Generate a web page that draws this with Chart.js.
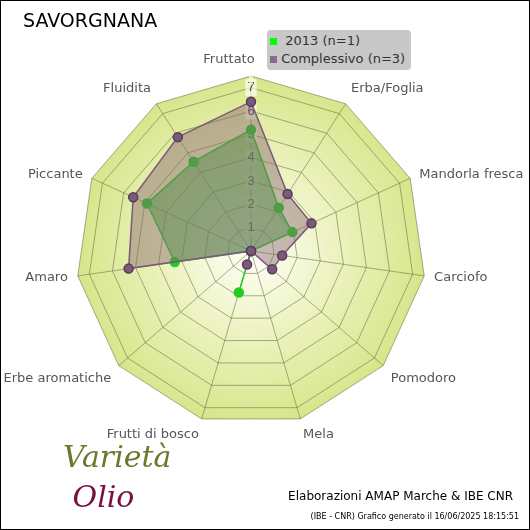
<!DOCTYPE html><html><head><meta charset="utf-8">
<script src="https://cdn.jsdelivr.net/npm/chart.js@4"></script>
<style>body{margin:0}#w{position:relative;width:528px;height:528px;border:1px solid #000;background:#fff;font-family:"DejaVu Sans",sans-serif;overflow:hidden}
#t{position:absolute;left:22px;top:8px;font-size:19px;color:#000}
#lg{position:absolute;left:266px;top:29px;width:144px;height:40px;background:#c8c8c8;border-radius:4px;font-size:13px;color:#333;line-height:18px;padding:2px 0 0 3px;box-sizing:border-box}
#f1{position:absolute;right:16px;top:488px;font-size:12px;color:#000}
#f2{position:absolute;right:10px;top:511px;font-size:8px;color:#000}
#logo{position:absolute;left:62px;top:436px;font-size:30px;line-height:40px;font-style:italic;color:#6b7a2a;font-family:"DejaVu Serif",serif}
</style></head><body><div id="w"><canvas id="c" width="528" height="528"></canvas>
<div id="t">SAVORGNANA</div>
<div id="lg"><span style="display:inline-block;width:7px;height:7px;background:#0f0"></span>&nbsp; 2013 (n=1)<br><span style="display:inline-block;width:7px;height:7px;background:#8a6a8a"></span> Complessivo (n=3)</div>
<div id="logo">Varietà<br><span style="color:#7a1040">&nbsp;Olio</span></div>
<div id="f1">Elaborazioni AMAP Marche &amp; IBE CNR</div>
<div id="f2">(IBE - CNR) Grafico generato il 16/06/2025 18:15:51</div></div>
<script>
const categories=["Fruttato","Erba/Foglia","Mandorla fresca","Carciofo","Pomodoro","Mela","Frutti di bosco","Erbe aromatiche","Amaro","Piccante","Fluidita"];
const s2013=[5.2,2.2,1.95,0,0,0,1.85,0,3.3,4.9,4.55];
const sAll=[6.4,2.9,2.85,1.35,1.2,0,0.6,0,5.3,5.55,5.8];
const bg={id:'bg',beforeDatasetsDraw(ch){const s=ch.scales.r,x=ch.ctx,n=categories.length;
 const g=x.createRadialGradient(s.xCenter,s.yCenter,0,s.xCenter,s.yCenter,s.drawingArea);
 g.addColorStop(0,'rgba(255,255,250,1)');g.addColorStop(0.5,'rgba(236,242,190,1)');g.addColorStop(1,'rgba(214,230,138,1)');
 x.save();x.globalCompositeOperation='destination-over';x.beginPath();
 for(let i=0;i<n;i++){const p=s.getPointPosition(i,s.drawingArea);i?x.lineTo(p.x,p.y):x.moveTo(p.x,p.y);}
 x.closePath();x.fillStyle=g;x.fill();x.restore();
 x.save();x.font='13px "DejaVu Sans"';x.fillStyle='#555';
 for(let i=0;i<n;i++){const p=s.getPointPosition(i,s.drawingArea+10);const a=i*2*Math.PI/n;const sn=Math.sin(a),cs=Math.cos(a);
  x.textAlign=Math.abs(sn)<0.2?'center':(sn>0?'left':'right');
  x.textBaseline=cs>0.5?'bottom':(cs<-0.5?'top':'middle');
  x.fillText(categories[i],p.x+(Math.abs(sn)<0.2?-22:0),p.y);}
 x.restore();}};
new Chart(document.getElementById('c'),{type:'radar',data:{labels:categories,datasets:[
{label:'Complessivo (n=3)',data:sAll,borderColor:'#7a5a7a',backgroundColor:'rgba(135,100,110,0.45)',pointBackgroundColor:'#7a5a7a',pointBorderColor:'#5a3a5a',pointRadius:4.5,borderWidth:1.5},
{label:'2013 (n=1)',data:s2013,borderColor:'#22cc22',backgroundColor:'rgba(50,175,50,0.5)',pointBackgroundColor:'#22cc22',pointBorderColor:'#22cc22',pointRadius:4.5,borderWidth:1.5}]},
options:{responsive:false,animation:false,layout:{padding:{top:66,bottom:94,left:66,right:94}},
plugins:{legend:{display:false},tooltip:{enabled:false}},
scales:{r:{min:0,max:7.5,beginAtZero:true,grid:{color:'rgba(100,110,60,0.55)'},angleLines:{color:'rgba(100,110,60,0.55)'},
ticks:{stepSize:1,color:'#444',font:{size:13},backdropColor:'rgba(255,255,240,0.7)',callback:v=>(v>0&&Number.isInteger(v))?v:''},
pointLabels:{display:false}}}},plugins:[bg]});
</script></body></html>
